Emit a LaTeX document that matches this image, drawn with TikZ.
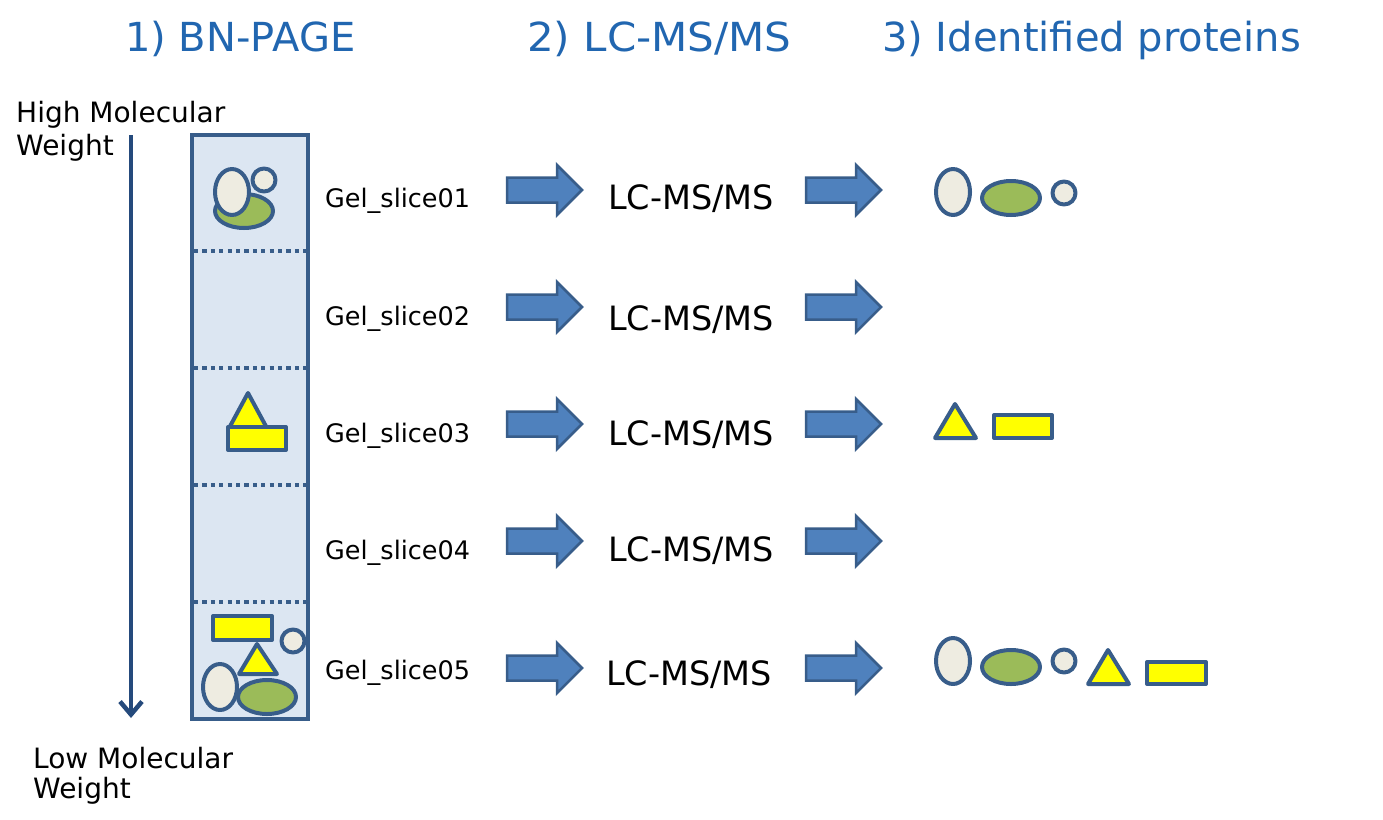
\documentclass[tikz,border=0pt]{standalone}
\usepackage{fontspec}
\setmainfont{DejaVu Sans}
\usetikzlibrary{arrows.meta}
\definecolor{gelfill}{HTML}{DCE6F2}
\definecolor{outl}{HTML}{385D8A}
\definecolor{arrfill}{HTML}{4F81BD}
\definecolor{navy}{HTML}{254A7C}
\definecolor{beige}{HTML}{EEECE1}
\definecolor{pgreen}{HTML}{9BBB59}
\definecolor{pyellow}{HTML}{FFFF00}
\definecolor{titleblue}{HTML}{2166B0}
\tikzset{
  prot/.style={draw=outl, line width=4pt, line join=round},
  pbeige/.style={prot, fill=beige},
  pgreenst/.style={prot, fill=pgreen},
  pyel/.style={prot, fill=pyellow},
  title/.style={inner sep=0pt, anchor=base west, text=titleblue, font=\fontsize{40}{48}\selectfont},
  side/.style={inner sep=0pt, anchor=base west, font=\fontsize{28}{33}\selectfont},
  slicelab/.style={inner sep=0pt, anchor=base west, font=\fontsize{25.5}{30}\selectfont},
  lcms/.style={inner sep=0pt, anchor=base west, font=\fontsize{33.5}{40}\selectfont},
  barrow/.style={draw=outl, fill=arrfill, line width=2.5pt, line join=miter},
  blockarrow/.pic={\draw[barrow] (0,-12.5) -- (50,-12.5) -- (50,-25) -- (75,0) -- (50,25) -- (50,12.5) -- (0,12.5) -- cycle;},
  dotline/.style={draw=outl, line width=4pt, dash pattern=on 4.2pt off 4.2pt}
}
\begin{document}
\begin{tikzpicture}[x=1pt,y=-1pt]
\useasboundingbox (0,0) rectangle (1383,819);
% titles
\node[title] (t1) at (125,51) {1) BN-PAGE};
\node[title, xscale=1.05] (t2) at (527,51) {2) LC-MS/MS};
\node[title] (t3) at (882,51) {3) Identified proteins};
% side labels
\node[side] (hmw1) at (16,122) {High Molecular};
\node[side] (hmw2) at (16,155) {Weight};
\node[side] (lmw1) at (33,768) {Low Molecular};
\node[side] (lmw2) at (33,798) {Weight};
% vertical arrow
\coordinate (vtop) at (131,135);
\coordinate (vbot) at (131,718);
\draw[navy, line width=4.5pt, -{Straight Barb[length=13pt,width=22pt]}] (vtop) -- (vbot);
% gel lane
\draw[draw=outl, fill=gelfill, line width=4pt] (192,135) rectangle (308,719);
\foreach \yy in {251,368,485,602} {\draw[dotline] (194,\yy) -- (306,\yy);}
% gel slice 01 proteins
\draw[pgreenst] (244,211) ellipse [x radius=29, y radius=17];
\draw[pbeige] (232,192) ellipse [x radius=17, y radius=23];
\draw[pbeige] (264,180) circle [radius=11.5];
% gel slice 03 proteins
\draw[pyel] (248,393) -- (228,430) -- (268,430) -- cycle;
\draw[pyel] (228,427) rectangle (286,450);
% gel slice 05 proteins
\draw[pyel] (213,616) rectangle (272,640);
\draw[pbeige] (293,641) circle [radius=11.5];
\draw[pyel] (257,644) -- (239,674) -- (277,674) -- cycle;
\draw[pbeige] (220,687) ellipse [x radius=17, y radius=23];
\draw[pgreenst] (267,697) ellipse [x radius=29, y radius=17];
% slice labels
\node[slicelab] (s1) at (325,207) {Gel\_slice01};
\node[slicelab] (s2) at (325,325) {Gel\_slice02};
\node[slicelab] (s3) at (325,442) {Gel\_slice03};
\node[slicelab] (s4) at (325,559) {Gel\_slice04};
\node[slicelab] (s5) at (325,679) {Gel\_slice05};
% arrows column 1
\pic at (507,190) {blockarrow};
\pic at (507,307) {blockarrow};
\pic at (507,424) {blockarrow};
\pic at (507,541) {blockarrow};
\pic at (507,668) {blockarrow};
% LC-MS/MS labels
\node[lcms] (l1) at (608,209) {LC-MS/MS};
\node[lcms] (l2) at (608,330) {LC-MS/MS};
\node[lcms] (l3) at (608,445) {LC-MS/MS};
\node[lcms] (l4) at (608,561) {LC-MS/MS};
\node[lcms] (l5) at (606,685) {LC-MS/MS};
% arrows column 2
\pic at (806,190) {blockarrow};
\pic at (806,307) {blockarrow};
\pic at (806,424) {blockarrow};
\pic at (806,541) {blockarrow};
\pic at (806,668) {blockarrow};
% identified proteins row 1
\draw[pbeige] (953,192) ellipse [x radius=17, y radius=23];
\draw[pgreenst] (1011,198) ellipse [x radius=29, y radius=17];
\draw[pbeige] (1064,193) circle [radius=11.5];
% row 3
\draw[pyel] (955,404) -- (935,438) -- (976,438) -- cycle;
\draw[pyel] (994,415) rectangle (1052,438);
% row 5
\draw[pbeige] (953,661) ellipse [x radius=17, y radius=23];
\draw[pgreenst] (1011,667) ellipse [x radius=29, y radius=17];
\draw[pbeige] (1064,661) circle [radius=11.5];
\draw[pyel] (1108,650) -- (1088,684) -- (1129,684) -- cycle;
\draw[pyel] (1147,662) rectangle (1206,684);
\end{tikzpicture}
\end{document}
